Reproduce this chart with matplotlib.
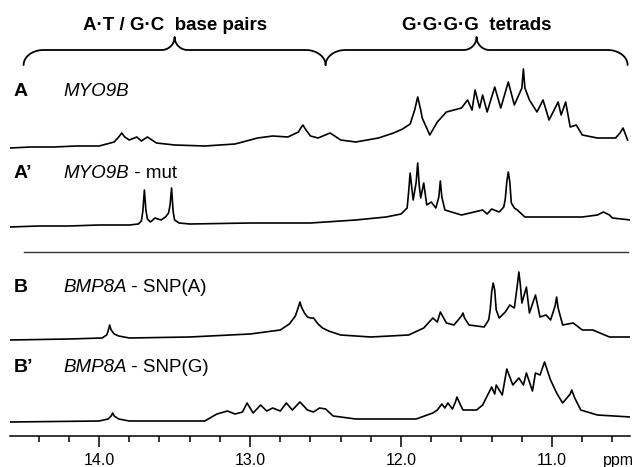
import numpy as np
import matplotlib.pyplot as plt
from matplotlib.ticker import MultipleLocator, FixedLocator

# chemical shift (ppm) and intensity above each trace's baseline
a_ppm = [14.59, 14.45, 14.30, 14.15, 14.00, 13.90, 13.87, 13.85, 13.83, 13.80, 13.75, 13.72,
         13.68, 13.62, 13.50, 13.30, 13.10, 12.95, 12.85, 12.75, 12.68, 12.66, 12.65, 12.63,
         12.60, 12.55, 12.47, 12.40, 12.30, 12.15, 12.05, 11.99, 11.94, 11.91, 11.89, 11.87,
         11.86, 11.81, 11.76, 11.70, 11.65, 11.60, 11.56, 11.53, 11.51, 11.48, 11.46, 11.43,
         11.38, 11.34, 11.29, 11.25, 11.20, 11.19, 11.18, 11.15, 11.10, 11.06, 11.02, 10.96,
         10.94, 10.91, 10.88, 10.84, 10.80, 10.70, 10.58, 10.55, 10.53, 10.51, 10.50]
a_int = [0, 1, 1, 2, 2, 6, 11, 15, 11, 8, 11, 7,
         11, 5, 3, 2, 4, 10, 12, 11, 16, 21, 23, 18,
         12, 10, 15, 8, 6, 10, 15, 19, 24, 38, 51, 38,
         30, 13, 26, 36, 38, 40, 48, 38, 58, 40, 53, 36,
         61, 40, 66, 43, 60, 79, 60, 48, 36, 48, 28, 46,
         33, 46, 21, 23, 13, 10, 10, 15, 20, 12, 8]

a2_ppm = [14.59, 14.40, 14.20, 14.00, 13.80, 13.74, 13.72, 13.71, 13.70, 13.69, 13.68, 13.66,
          13.63, 13.59, 13.56, 13.54, 13.53, 13.52, 13.51, 13.50, 13.47, 13.40, 13.00, 12.60,
          12.30, 12.10, 12.00, 11.96, 11.95, 11.94, 11.92, 11.90, 11.89, 11.88, 11.87, 11.85,
          11.83, 11.80, 11.77, 11.75, 11.74, 11.73, 11.71, 11.60, 11.46, 11.43, 11.40, 11.35,
          11.32, 11.31, 11.30, 11.29, 11.28, 11.27, 11.25, 11.23, 11.18, 10.80, 10.70, 10.66,
          10.62, 10.60, 10.48]
a2_int = [0, 1, 1, 2, 2, 3, 6, 16, 37, 17, 8, 5,
          9, 7, 10, 14, 22, 39, 16, 7, 4, 3, 4, 4,
          7, 10, 13, 19, 35, 54, 27, 45, 64, 42, 29, 44,
          22, 25, 19, 30, 46, 30, 17, 12, 17, 13, 18, 15,
          20, 28, 45, 55, 45, 24, 19, 17, 10, 10, 12, 15,
          12, 9, 7]

b_ppm = [14.59, 14.20, 13.98, 13.95, 13.94, 13.93, 13.92, 13.90, 13.87, 13.80, 13.40, 13.00,
         12.80, 12.74, 12.70, 12.68, 12.67, 12.66, 12.64, 12.62, 12.60, 12.58, 12.55, 12.52,
         12.48, 12.40, 12.20, 11.95, 11.85, 11.79, 11.76, 11.74, 11.70, 11.65, 11.60, 11.59,
         11.58, 11.55, 11.45, 11.42, 11.41, 11.40, 11.39, 11.38, 11.37, 11.35, 11.31, 11.28,
         11.25, 11.23, 11.22, 11.21, 11.20, 11.17, 11.15, 11.11, 11.08, 11.04, 11.01, 10.98,
         10.97, 10.96, 10.93, 10.86, 10.80, 10.73, 10.62, 10.48]
b_int = [0, 1, 2, 5, 9, 15, 10, 6, 4, 2, 3, 6,
         10, 16, 24, 33, 38, 33, 27, 23, 22, 22, 16, 12,
         9, 5, 3, 5, 12, 22, 18, 28, 17, 15, 24, 27,
         22, 15, 13, 20, 30, 48, 57, 50, 30, 22, 28, 35,
         32, 55, 68, 55, 37, 53, 27, 45, 23, 25, 20, 34,
         43, 32, 15, 17, 10, 10, 3, 3]

b2_ppm = [14.59, 14.00, 13.94, 13.92, 13.91, 13.90, 13.87, 13.80, 13.30, 13.22, 13.15, 13.10,
          13.05, 13.02, 12.98, 12.93, 12.89, 12.85, 12.80, 12.76, 12.72, 12.67, 12.62, 12.58,
          12.54, 12.50, 12.45, 12.30, 11.90, 11.79, 11.76, 11.73, 11.71, 11.69, 11.66, 11.64,
          11.63, 11.61, 11.59, 11.50, 11.46, 11.40, 11.38, 11.37, 11.33, 11.30, 11.26, 11.22,
          11.19, 11.17, 11.13, 11.11, 11.08, 11.05, 11.01, 10.97, 10.93, 10.88, 10.87, 10.85,
          10.81, 10.70, 10.48]
b2_int = [0, 1, 3, 6, 9, 6, 3, 1, 1, 8, 11, 8,
          10, 19, 9, 17, 11, 14, 11, 19, 12, 20, 12, 10,
          14, 13, 6, 3, 3, 9, 12, 18, 14, 19, 13, 20,
          25, 18, 12, 12, 17, 35, 28, 37, 27, 53, 37, 44,
          37, 49, 31, 49, 47, 60, 42, 29, 19, 28, 32, 24,
          12, 7, 5]

letters = ['A', 'A\u2019', 'B', 'B\u2019']
names = [('MYO9B', ''), ('MYO9B', ' - mut'), ('BMP8A', ' - SNP(A)'), ('BMP8A', ' - SNP(G)')]
regions = [(14.5, 12.5, 'A\u00b7T / G\u00b7C  base pairs'), (12.5, 10.5, 'G\u00b7G\u00b7G\u00b7G  tetrads')]

plt.rcParams['font.family'] = ['Liberation Sans', 'DejaVu Sans']

W, H = 639, 467
fig = plt.figure(figsize=(W / 100, H / 100), dpi=100)
ax = fig.add_axes([10 / W, (H - 436) / H, 620 / W, 436 / H])
ax.set_xlim(14.59, 10.484)
ax.set_ylim(0, 436)

# vertical stacking of the traces (pixel units above the axis line)
offsets = [288, 209, 96, 14]
spectra = [(a_ppm, a_int), (a2_ppm, a2_int), (b_ppm, b_int), (b2_ppm, b2_int)]
for (x, y), off in zip(spectra, offsets):
    ax.plot(x, np.array(y) + off, color='black', lw=1.2, solid_joinstyle='round')

# separator between the two pairs
ax.plot([14.5, 10.5], [184, 184], color='#333333', lw=1.0)


def brace(x0, x1, y_end=371, y_bar=386, y_tip=399):
    k = 151.0  # px per ppm
    p0, p1 = (14.59 - x0) * k, (14.59 - x1) * k
    pm = (p0 + p1) / 2
    rx, rt = 20, 13
    t = np.linspace(0, np.pi / 2, 20)
    xs = np.concatenate([p0 + rx - rx * np.cos(t),
                         pm - rt + rt * np.sin(t),
                         pm + rt - rt * np.cos(t),
                         p1 - rx + rx * np.sin(t)])
    ys = np.concatenate([y_end + (y_bar - y_end) * np.sin(t),
                         y_tip - (y_tip - y_bar) * np.cos(t),
                         y_tip - (y_tip - y_bar) * np.sin(t),
                         y_end + (y_bar - y_end) * np.cos(t)])
    ax.plot(14.59 - xs / k, ys, color='black', lw=1.3, solid_capstyle='round')


for x0, x1, label in regions:
    brace(x0, x1)
    ax.text((x0 + x1) / 2, 410, label, ha='center', va='center', fontsize=13.5, fontweight='bold')

# labels for each trace
label_y = [92, 174, 288, 367]
fig.canvas.draw()
for let, (gene, rest), yy in zip(letters, names, label_y):
    fig.text(14 / W, 1 - yy / H, let, fontsize=14, fontweight='bold', va='center')
    t = fig.text(63 / W, 1 - yy / H, gene, fontsize=13.5, style='italic', va='center')
    if rest:
        bb = t.get_window_extent(renderer=fig.canvas.get_renderer())
        fig.text(bb.x1 / W, 1 - yy / H, rest, fontsize=13.5, va='center')

for s in ['top', 'left', 'right']:
    ax.spines[s].set_visible(False)
ax.spines['bottom'].set_linewidth(1.1)
ax.set_yticks([])
ax.xaxis.set_major_locator(FixedLocator([14, 13, 12, 11]))
ax.set_xticklabels(['14.0', '13.0', '12.0', '11.0'], fontsize=11.5)
ax.xaxis.set_minor_locator(MultipleLocator(0.2))
ax.tick_params(axis='x', which='major', length=8, width=1.1, pad=4)
ax.tick_params(axis='x', which='minor', length=4.3, width=1.1)
fig.text(618 / W, 1 - 460 / H, 'ppm', fontsize=11.5, ha='center', va='center')
ax.patch.set_alpha(0)

fig.savefig('out.png', dpi=100)
